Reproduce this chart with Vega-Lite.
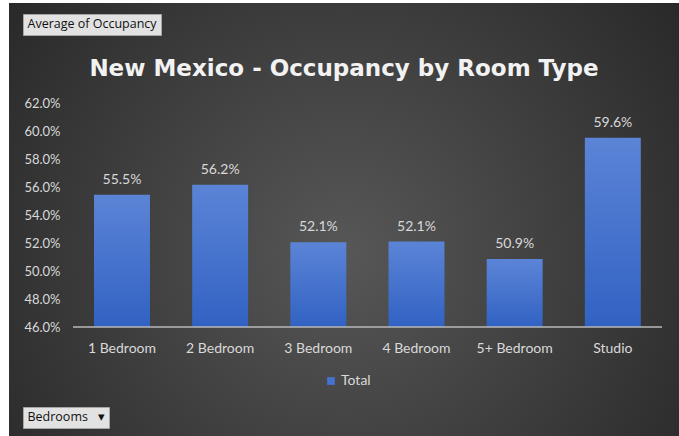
{
  "$schema": "https://vega.github.io/schema/vega-lite/v6.json",
  "width": 670,
  "height": 433,
  "autosize": {"type": "none"},
  "padding": {"left": 9, "top": 3, "right": 0, "bottom": 0},
  "background": "#ffffff",
  "config": {"view": {"stroke": null}},
  "title": {
    "text": "New Mexico - Occupancy by Room Type",
    "font": "DejaVu Sans",
    "fontSize": 23,
    "fontWeight": "bold",
    "color": "#f2f2f2",
    "anchor": "middle",
    "frame": "group",
    "baseline": "alphabetic",
    "offset": -96
  },
  "data": {
    "values": [
      {"type": "1 Bedroom", "occ": 0.5548},
      {"type": "2 Bedroom", "occ": 0.562},
      {"type": "3 Bedroom", "occ": 0.5208},
      {"type": "4 Bedroom", "occ": 0.5213},
      {"type": "5+ Bedroom", "occ": 0.5088},
      {"type": "Studio", "occ": 0.5957}
    ]
  },
  "resolve": {"scale": {"x": "independent"}, "axis": {"x": "independent"}},
  "layer": [
    {
      "data": {"values": [{}]},
      "mark": {
        "type": "rect",
        "color": {
          "gradient": "radial",
          "x1": 0.5, "y1": 0.55, "r1": 0,
          "x2": 0.5, "y2": 0.55, "r2": 0.72,
          "stops": [
            {"offset": 0, "color": "#575757"},
            {"offset": 1, "color": "#222222"}
          ]
        }
      },
      "encoding": {}
    },
    {
      "encoding": {
        "x": {
          "field": "type",
          "type": "nominal",
          "sort": null,
          "scale": {"paddingInner": 0.43, "paddingOuter": 0.6275, "align": 0.69},
          "axis": {
            "title": null,
            "domain": false,
            "ticks": false,
            "zindex": 1,
            "labelAngle": 0,
            "labelPadding": -95,
            "labelFont": "Lato",
            "labelFontSize": 14,
            "labelColor": "#d9d9d9"
          }
        },
        "y": {
          "field": "occ",
          "type": "quantitative",
          "scale": {"domain": [0.3818, 0.69245], "nice": false, "zero": false},
          "axis": {
            "title": null,
            "values": [0.46, 0.48, 0.5, 0.52, 0.54, 0.56, 0.58, 0.6, 0.62],
            "format": ".1%",
            "grid": false,
            "domain": false,
            "ticks": false,
            "zindex": 1,
            "labelPadding": -51,
            "labelFont": "Lato",
            "labelFontSize": 13,
            "labelColor": "#d9d9d9"
          }
        }
      },
      "layer": [
        {
          "mark": {
            "type": "bar",
            "color": {
              "gradient": "linear",
              "x1": 0, "y1": 0, "x2": 0, "y2": 1,
              "stops": [
                {"offset": 0, "color": "#5b84d6"},
                {"offset": 1, "color": "#3162c3"}
              ]
            }
          },
          "encoding": {
            "y2": {"datum": 0.46}
          }
        },
        {
          "mark": {
            "type": "text",
            "baseline": "alphabetic",
            "dy": -11,
            "font": "Lato",
            "fontSize": 14,
            "color": "#d9d9d9"
          },
          "encoding": {
            "text": {"field": "occ", "type": "quantitative", "format": ".1%"}
          }
        }
      ]
    },
    {
      "data": {"values": [{"start": 0, "end": 6, "base": 0.46}]},
      "mark": {"type": "rule", "color": "#b8b8b8", "strokeWidth": 1.3},
      "encoding": {
        "x": {
          "field": "start",
          "type": "quantitative",
          "scale": {"domain": [-0.652, 6.173], "nice": false, "zero": false},
          "axis": null
        },
        "x2": {"field": "end"},
        "y": {"field": "base", "type": "quantitative"}
      }
    },
    {
      "data": {"values": [{}]},
      "mark": {"type": "point", "opacity": 0, "filled": true},
      "encoding": {
        "color": {
          "datum": "Total",
          "scale": {"range": ["#4472d0"]},
          "legend": {
            "orient": "none",
            "legendX": 315,
            "legendY": 371,
            "title": null,
            "padding": 0,
            "symbolType": "square",
            "symbolSize": 60,
            "symbolOpacity": 1,
            "symbolStrokeWidth": 0,
            "labelOffset": 3,
            "labelFont": "Lato",
            "labelFontSize": 14,
            "labelColor": "#d9d9d9"
          }
        },
        "shape": {
          "datum": "Average of Occupancy",
          "scale": {"range": ["square"]},
          "legend": {
            "orient": "none",
            "legendX": 14,
            "legendY": 11,
            "title": null,
            "fillColor": "#e2e2e2",
            "strokeColor": "#a6a6a6",
            "padding": 4,
            "symbolSize": 1,
            "symbolOpacity": 0,
            "symbolStrokeWidth": 0,
            "labelOffset": -12,
            "labelFont": "Open Sans",
            "labelFontSize": 12.5,
            "labelColor": "#111111"
          }
        },
        "strokeDash": {
          "datum": "Bedrooms",
          "legend": {
            "orient": "none",
            "legendX": 14,
            "legendY": 404,
            "title": null,
            "fillColor": "#e2e2e2",
            "strokeColor": "#a6a6a6",
            "padding": 4,
            "symbolSize": 1,
            "symbolOpacity": 0,
            "symbolStrokeWidth": 0,
            "labelOffset": -12,
            "labelFont": "Open Sans",
            "labelFontSize": 12.5,
            "labelColor": "#111111",
            "labelExpr": "datum.label + '\u00a0\u00a0\u00a0\u25be'"
          }
        }
      }
    }
  ]
}
